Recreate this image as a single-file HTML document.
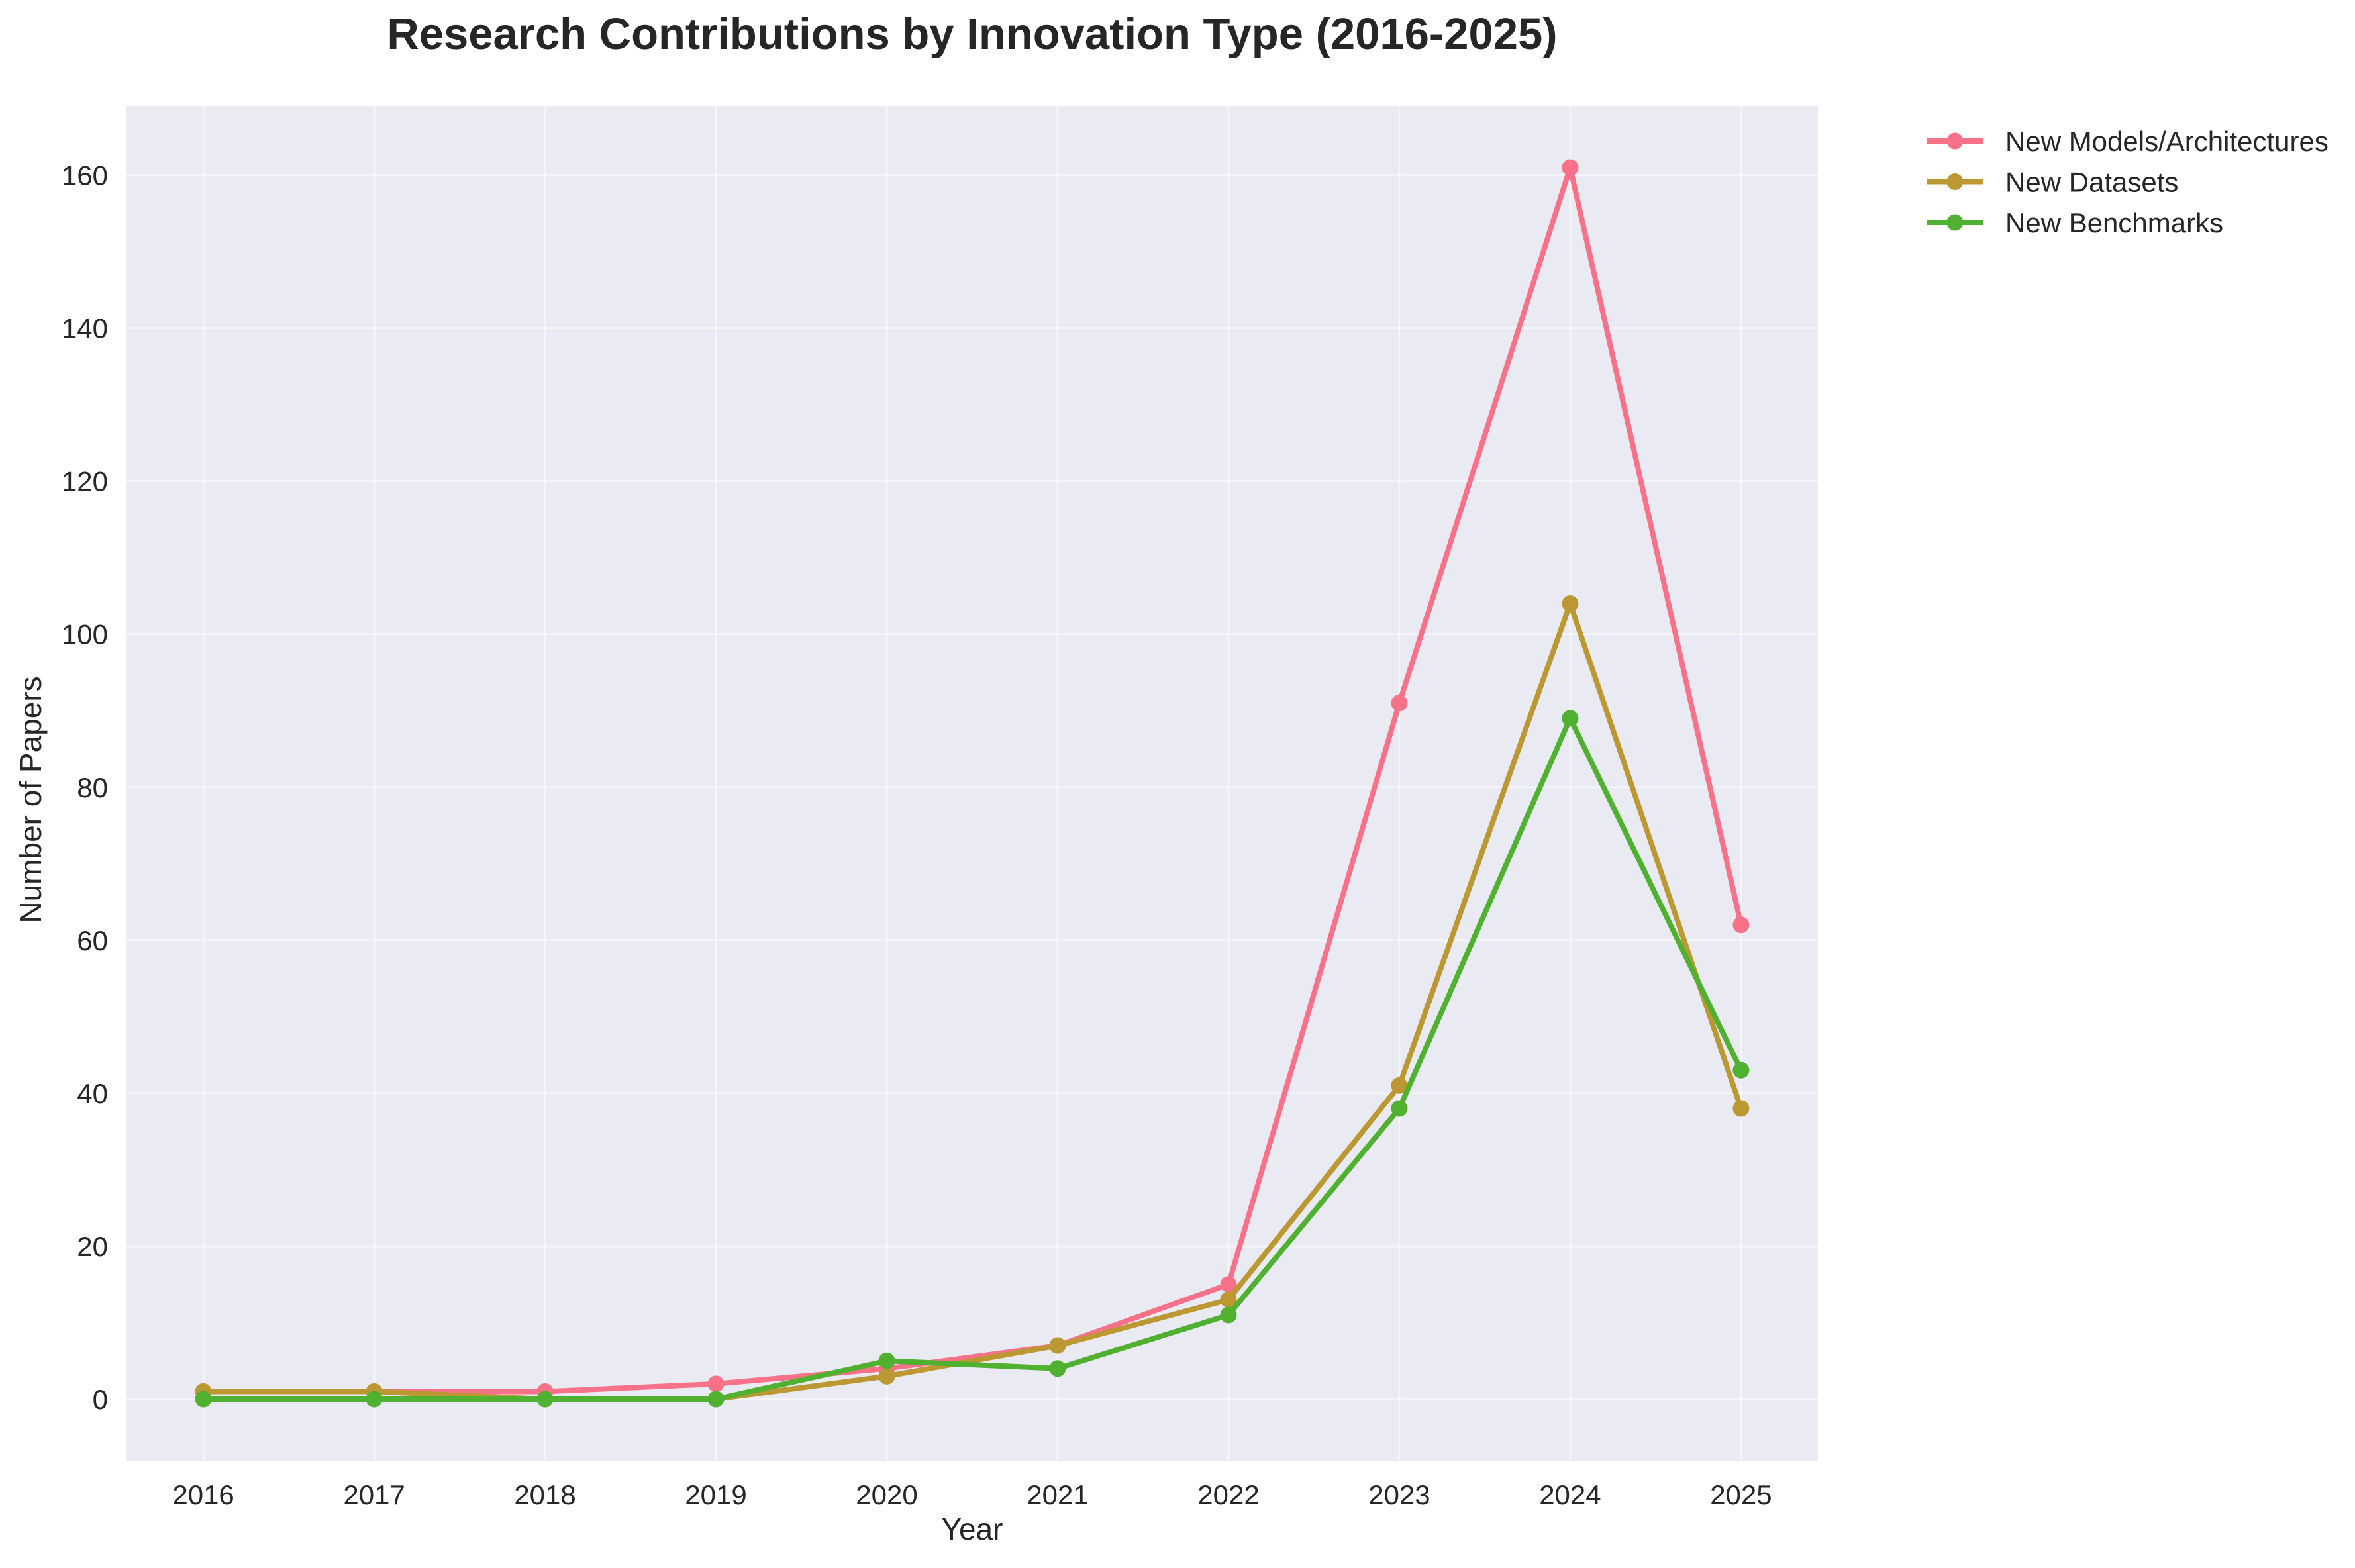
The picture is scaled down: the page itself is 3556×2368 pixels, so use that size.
<!DOCTYPE html>
<html><head><meta charset="utf-8"><style>
html,body{margin:0;padding:0;background:#fff;}
svg{display:block;font-family:"Liberation Sans",sans-serif;}
</style></head><body>
<svg id="chart" width="3556" height="2368" viewBox="0 0 3556 2368" xmlns="http://www.w3.org/2000/svg">
<rect x="191" y="160" width="2554" height="2046" fill="#eaeaf2"/>
<g id="grid"></g>
<g id="series"></g>
<g id="ticks"></g>
<text x="1468" y="74" text-anchor="middle" font-size="67" font-weight="bold" fill="#262626">Research Contributions by Innovation Type (2016-2025)</text>
<text x="1468" y="2325" text-anchor="middle" font-size="46" fill="#262626">Year</text>
<text transform="translate(62,1208) rotate(-90)" text-anchor="middle" font-size="46" fill="#262626">Number of Papers</text>
<g id="legend"></g>
</svg>
<script>
const years = [2016,2017,2018,2019,2020,2021,2022,2023,2024,2025];
const models = [1,1,1,2,4,7,15,91,161,62];
const datasets = [1,1,0,0,3,7,13,41,104,38];
const benchmarks = [0,0,0,0,5,4,11,38,89,43];
const yTicks = [0,20,40,60,80,100,120,140,160];
const seriesNames = ["New Models/Architectures","New Datasets","New Benchmarks"];
const seriesColors = ["#f77189","#bb9832","#50b131"];

const NS="http://www.w3.org/2000/svg";
const L=191,R=2745,T=160,B=2206;
const xMin=2015.55,xMax=2025.45,yMin=-8.05,yMax=169.05;
function xs(v){return L+(v-xMin)/(xMax-xMin)*(R-L);}
function ys(v){return B-(v-yMin)/(yMax-yMin)*(B-T);}
function mk(tag,attrs,parent){const e=document.createElementNS(NS,tag);for(const k in attrs)e.setAttribute(k,attrs[k]);parent.appendChild(e);return e;}
const grid=document.getElementById('grid'),ticks=document.getElementById('ticks'),ser=document.getElementById('series'),leg=document.getElementById('legend');
years.forEach(y=>{
  const g=mk('line',{x1:xs(y),x2:xs(y),y1:T,y2:B,stroke:'#ffffff','stroke-width':3,'stroke-opacity':0.5},grid);
  
  
  const t=mk('text',{x:xs(y),y:B+66,'text-anchor':'middle','font-size':42,fill:'#262626'},ticks);
  t.textContent=y;
  
  
});
yTicks.forEach(v=>{
  const g=mk('line',{x1:L,x2:R,y1:ys(v),y2:ys(v),stroke:'#ffffff','stroke-width':3,'stroke-opacity':0.5},grid);
  
  
  const t=mk('text',{x:L-28,y:ys(v)+15,'text-anchor':'end','font-size':42,fill:'#262626'},ticks);
  t.textContent=v;
  
  
});
const allData=[models,datasets,benchmarks];
const keys=['models','datasets','benchmarks'];
allData.forEach((d,i)=>{
  const g=mk('g',{},ser);
  
  
  const pts=d.map((v,j)=>xs(years[j])+','+ys(v)).join(' ');
  const pl=mk('polyline',{points:pts,fill:'none',stroke:seriesColors[i],'stroke-width':8,'stroke-linejoin':'round','stroke-linecap':'round'},g);
  
  
  d.forEach((v,j)=>{
    const c=mk('circle',{cx:xs(years[j]),cy:ys(v),r:12.5,fill:seriesColors[i]},g);
    
    
  });
  const ly=213+i*61.5;
  const eg=mk('g',{},leg);
  
  
  mk('line',{x1:2910,x2:2995,y1:ly,y2:ly,stroke:seriesColors[i],'stroke-width':8},eg);
  mk('circle',{cx:2952,cy:ly,r:12.5,fill:seriesColors[i]},eg);
  const t=mk('text',{x:3028,y:ly+15,'font-size':42,fill:'#262626'},eg);
  t.textContent=seriesNames[i];
});
</script>
</body></html>
